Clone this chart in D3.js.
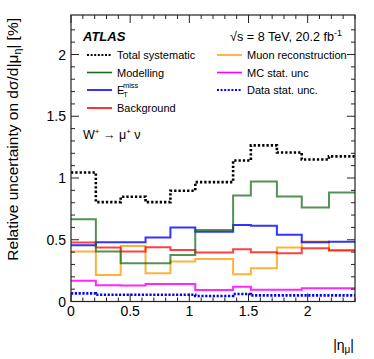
<!DOCTYPE html>
<html><head><meta charset="utf-8">
<script src="https://cdn.jsdelivr.net/npm/d3@7"></script>
<style>
body{margin:0;background:#fff;}
svg{display:block;font-family:"Liberation Sans",Arial,Helvetica,sans-serif;}
</style></head><body>
<svg id="c" width="374" height="359"></svg>
<script>
const binEdges = [0, 0.21, 0.42, 0.63, 0.84, 1.05, 1.37, 1.52, 1.74, 1.95, 2.18, 2.4];
const totalSyst   = [1.045, 0.805, 0.848, 0.805, 0.897, 0.967, 1.142, 1.264, 1.207, 1.150, 1.175];
const modelling   = [0.667, 0.404, 0.310, 0.310, 0.377, 0.580, 0.859, 0.972, 0.850, 0.761, 0.883];
const etmiss      = [0.455, 0.480, 0.480, 0.518, 0.599, 0.564, 0.620, 0.613, 0.540, 0.480, 0.483];
const background  = [0.477, 0.437, 0.404, 0.440, 0.418, 0.396, 0.423, 0.399, 0.391, 0.432, 0.412];
const muonReco    = [0.404, 0.215, 0.450, 0.229, 0.323, 0.345, 0.220, 0.269, 0.437, 0.485, 0.418];
const mcStat      = [0.169, 0.131, 0.130, 0.142, 0.142, 0.093, 0.120, 0.096, 0.096, 0.107, 0.107];
const dataStat    = [0.066, 0.055, 0.055, 0.055, 0.055, 0.045, 0.061, 0.050, 0.050, 0.050, 0.050];
const xTicks = [0, 0.5, 1, 1.5, 2];
const yTicks = [0, 0.5, 1, 1.5, 2];

const svg = d3.select("#c");
const L = 71, R = 355, T = 15, B = 301.5;
const x = d3.scaleLinear().domain([0, 2.4]).range([L, R]);
const y = d3.scaleLinear().domain([0, 2.32]).range([B, T]);

const series = [
  {v: muonReco,   color: "#ffa31a", w: 2, op: 0.85},
  {v: mcStat,     color: "#ff00ff", w: 2, op: 0.85},
  {v: background, color: "#ff0000", w: 2, op: 0.75},
  {v: etmiss,     color: "#0000ff", w: 2, op: 0.8},
  {v: modelling,  color: "#1a6e1a", w: 2, op: 0.75},
  {v: dataStat,   color: "#0000ff", w: 2.6, op: 1, dash: "2.2,1.6"},
  {v: totalSyst,  color: "#000000", w: 2.6, op: 1, dash: "2.3,2"}
];
const line = d3.line().x(d => x(d[0])).y(d => y(d[1])).curve(d3.curveStepAfter);
series.forEach(s => {
  const pts = s.v.map((v, i) => [binEdges[i], v]);
  pts.push([binEdges[binEdges.length - 1], s.v[s.v.length - 1]]);
  svg.append("path").attr("d", line(pts)).attr("fill", "none")
    .attr("stroke", s.color).attr("stroke-width", s.w).attr("stroke-opacity", s.op)
    .attr("stroke-dasharray", s.dash || null);
});

// frame
svg.append("rect").attr("x", L).attr("y", T).attr("width", R - L).attr("height", B - T)
  .attr("fill", "none").attr("stroke", "#222").attr("stroke-width", 1.2);

// ticks
const tk = svg.append("g").attr("stroke", "#222").attr("stroke-width", 1);
d3.range(0, 2.401, 0.1).forEach(v => {
  const major = xTicks.some(t => Math.abs(t - v) < 1e-6);
  const len = major ? 8 : 4;
  tk.append("line").attr("x1", x(v)).attr("x2", x(v)).attr("y1", B).attr("y2", B - len);
  tk.append("line").attr("x1", x(v)).attr("x2", x(v)).attr("y1", T).attr("y2", T + len);
});
d3.range(0, 2.3, 0.1).forEach(v => {
  const major = yTicks.some(t => Math.abs(t - v) < 1e-6);
  const len = major ? 8 : 4;
  tk.append("line").attr("y1", y(v)).attr("y2", y(v)).attr("x1", L).attr("x2", L + len);
  tk.append("line").attr("y1", y(v)).attr("y2", y(v)).attr("x1", R).attr("x2", R - len);
});

// tick labels
const tl = svg.append("g").attr("font-size", 14).attr("fill", "#000");
xTicks.forEach(v => tl.append("text").attr("x", x(v)).attr("y", 316).attr("text-anchor", "middle").text(d3.format("")(v)));
yTicks.forEach(v => tl.append("text").attr("x", 66).attr("y", y(v) + 5).attr("text-anchor", "end").text(d3.format("")(v)));

// axis titles
const xt = svg.append("text").attr("x", 354).attr("y", 350).attr("text-anchor", "end").attr("font-size", 14);
xt.append("tspan").text("|η");
xt.append("tspan").attr("dy", 3).attr("font-size", 10).text("μ");
xt.append("tspan").attr("dy", -3).text("|");

const yt = svg.append("text").attr("transform", "translate(18,18) rotate(-90)")
  .attr("text-anchor", "end").attr("font-size", 15.5);
yt.append("tspan").text("Relative uncertainty on  dσ/d|μ");
yt.append("tspan").attr("dy", 3).attr("font-size", 10.5).text("η");
yt.append("tspan").attr("dy", -3).text("| [%]");

// ATLAS label
svg.append("text").attr("x", 83).attr("y", 41).attr("font-size", 13).attr("font-weight", "bold")
  .attr("font-style", "italic").text("ATLAS");
const rs = svg.append("text").attr("x", 342).attr("y", 41).attr("font-size", 12.6).attr("text-anchor", "end");
rs.append("tspan").text("√s = 8 TeV, 20.2 fb");
rs.append("tspan").attr("dy", -5).attr("font-size", 9).text("-1");

// process label
const pl = svg.append("text").attr("x", 83).attr("y", 139).attr("font-size", 12.5);
pl.append("tspan").text("W");
pl.append("tspan").attr("dy", -5).attr("font-size", 8).text("+");
pl.append("tspan").attr("dy", 5).text(" → μ");
pl.append("tspan").attr("dy", -5).attr("font-size", 8).text("+");
pl.append("tspan").attr("dy", 5).text("  ν");

// legend
const legendNames = ["Total systematic", "Modelling", "E_T^miss", "Background", "Muon reconstruction", "MC stat. unc", "Data stat. unc."];
const legendStyle = [
  {color: "#000", dash: "2,1.6", w: 2.2}, {color: "#1a6e1a", w: 1.6}, {color: "#0000ff", w: 1.6}, {color: "#ff0000", w: 1.6},
  {color: "#ffa31a", w: 1.6}, {color: "#ff00ff", w: 1.6}, {color: "#0000ff", dash: "2,1.6", w: 2.2}
];
const rowY = [55, 72.5, 90, 108];
legendNames.forEach((name, i) => {
  const col = i < 4 ? 0 : 1;
  const row = i < 4 ? i : i - 4;
  const lx = col === 0 ? 87 : 217;
  const ly = rowY[row];
  const st = legendStyle[i];
  svg.append("line").attr("x1", lx).attr("x2", lx + 25).attr("y1", ly).attr("y2", ly)
    .attr("stroke", st.color).attr("stroke-width", st.w).attr("stroke-dasharray", st.dash || null);
  const t = svg.append("text").attr("x", lx + 30).attr("y", ly + 4).attr("font-size", 11);
  if (name === "E_T^miss") {
    t.append("tspan").text("E");
    t.append("tspan").attr("dx", -1).attr("dy", 3).attr("font-size", 7.5).text("T");
    t.append("tspan").attr("dx", -5).attr("dy", -9).attr("font-size", 7.5).text("miss");
  } else t.text(name);
});
</script>
</body></html>
